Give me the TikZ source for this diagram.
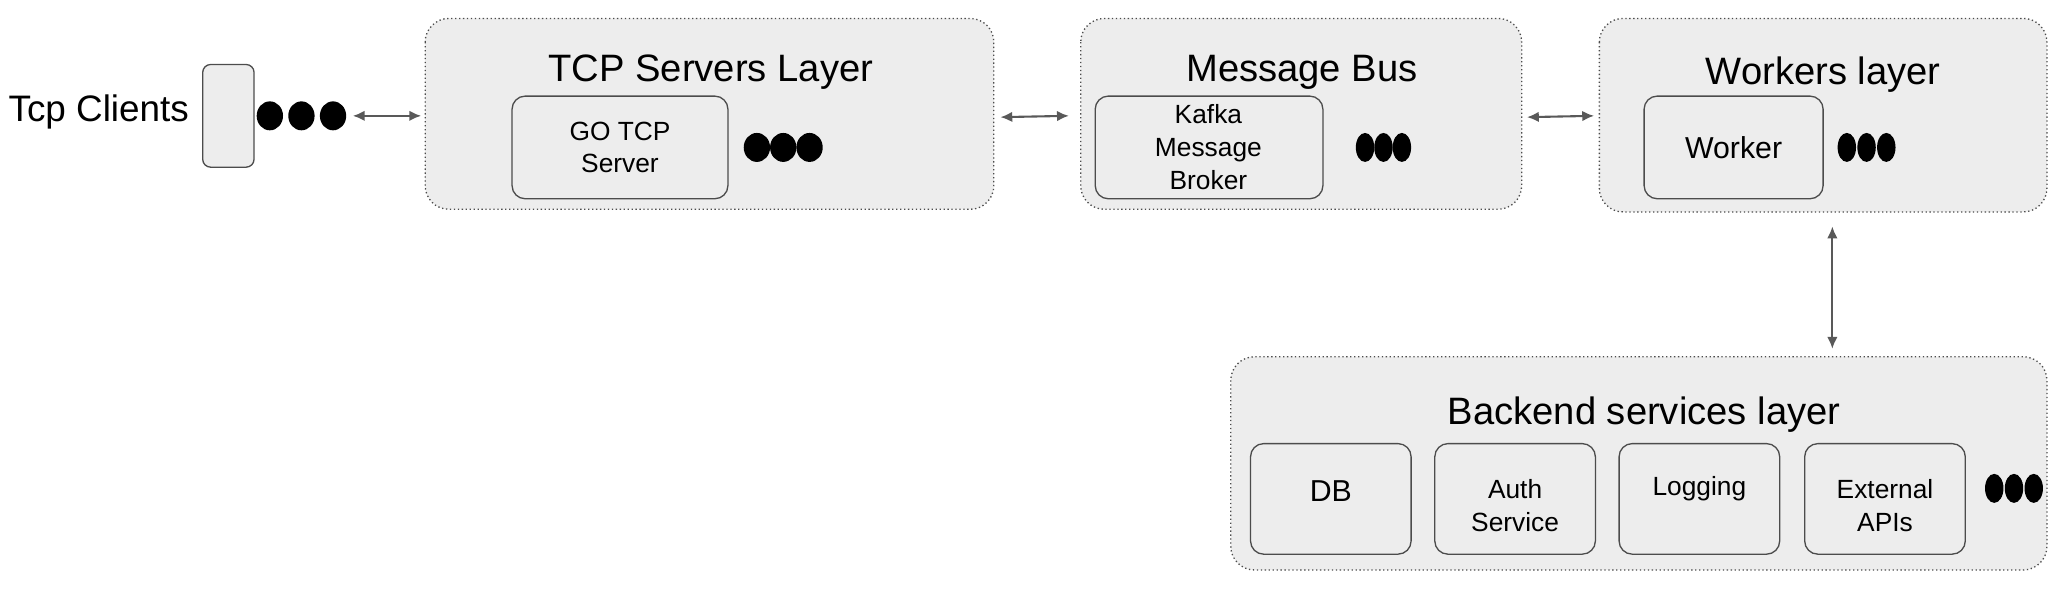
\documentclass[tikz,border=0pt]{standalone}
\usepackage{fontspec}
\setmainfont{Liberation Sans}
\usetikzlibrary{arrows.meta}
\begin{document}
\begin{tikzpicture}[x=1pt,y=-1pt,
 layer/.style={draw=black!70,dotted,fill=black!7,rounded corners=18pt,line width=1pt},
 box/.style={draw=black!70,fill=black!7,rounded corners=10pt,line width=1pt},
 dot/.style={fill=black,draw=none},
 arr/.style={{Latex[length=9pt,width=8pt]}-{Latex[length=9pt,width=8pt]},draw=black!65,line width=1.6pt},
 ttl/.style={font=\fontsize{29}{32}\selectfont},
 txt/.style={font=\fontsize{20}{25}\selectfont,align=center}]
\useasboundingbox (0,0) rectangle (1568,452);
% clients
\node[font=\fontsize{28}{30}\selectfont] (tcpc) at (75,85) {Tcp Clients};
\draw[box,rounded corners=6pt] (154,49) rectangle (193,127);
\coordinate (cl) at (193,88);
\foreach \x in {205,229,253}{\fill[dot] (\x,88) ellipse (10 and 11);}
% TCP layer
\draw[layer] (323,14) rectangle (755,159);
\node[ttl] at (540,55) {TCP Servers Layer};
\draw[box] (389,73) rectangle (553,151);
\node[txt] (go) at (471,112) {GO TCP\\Server};
\foreach \x in {575,595,615}{\fill[dot] (\x,112) ellipse (10 and 11);}
% Message bus
\draw[layer] (821,14) rectangle (1156,159);
\node[ttl] at (989,55) {Message Bus};
\draw[box] (832,73) rectangle (1005,151);
\node[txt] (kafka) at (918,112) {Kafka\\Message\\Broker};
\foreach \x in {1037,1051,1065}{\fill[dot] (\x,112) ellipse (7 and 11);}
% Workers
\draw[layer] (1215,14) rectangle (1555,161);
\node[ttl] at (1385,57) {Workers layer};
\draw[box] (1249,73) rectangle (1385,151);
\node[txt,font=\fontsize{23}{26}\selectfont] (worker) at (1317,112) {Worker};
\foreach \x in {1403,1418,1433}{\fill[dot] (\x,112) ellipse (7 and 11);}
% Backend
\draw[layer] (935,271) rectangle (1555,433);
\node[ttl] at (1249,315) {Backend services layer};
\draw[box] (950,337) rectangle (1072,421);
\node[txt,font=\fontsize{23}{26}\selectfont] (db) at (1011,373) {DB};
\draw[box] (1090,337) rectangle (1212,421);
\node[txt] (auth) at (1151,384) {Auth\\Service};
\draw[box] (1230,337) rectangle (1352,421);
\node[txt] (log) at (1291,371) {Logging};
\draw[box] (1371,337) rectangle (1493,421);
\node[txt] (ext) at (1432,384) {External\\APIs};
\foreach \x in {1515,1530,1545}{\fill[dot] (\x,371) ellipse (7 and 11);}
% arrows
\coordinate (a1) at (268,88); \coordinate (b1) at (320,88);
\coordinate (a2) at (760,89); \coordinate (b2) at (812,88);
\coordinate (a3) at (1160,89); \coordinate (b3) at (1211,88);
\coordinate (a4) at (1392,172); \coordinate (b4) at (1392,265);
\draw[arr] (a1) -- (b1);
\draw[arr] (a2) -- (b2);
\draw[arr] (a3) -- (b3);
\draw[arr] (a4) -- (b4);
\end{tikzpicture}
\end{document}
